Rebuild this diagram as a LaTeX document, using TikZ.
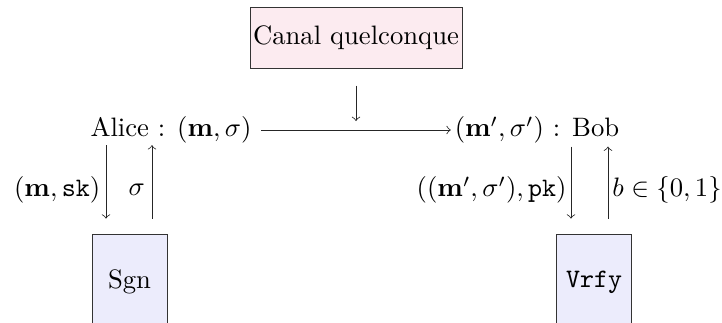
\documentclass[tikz,border=0pt]{standalone}
\usepackage{amsmath}
\definecolor{chanfill}{RGB}{252,235,240}
\definecolor{algofill}{RGB}{236,236,252}
\begin{document}
\begin{tikzpicture}[x=0.375pt,y=-0.375pt,
  chan/.style={draw=black!80,line width=0.35pt,fill=chanfill,minimum width=79.5pt,minimum height=22.9pt,inner sep=0pt},
  algo/.style={draw=black!80,line width=0.35pt,fill=algofill,minimum width=28.1pt,minimum height=36pt,inner sep=0pt},
  txt/.style={inner sep=1pt},
  arr/.style={->,line width=0.3pt,draw=black!85}]
\useasboundingbox (0,0) rectangle (722,322);
\clip (0,0) rectangle (722,322);
\node[chan] (canal) at (356,37.5) {Canal quelconque};
\node[txt] (alice) at (171,130) {Alice : $(\mathbf{m},\sigma)$};
\node[txt] (bob) at (537,130) {$(\mathbf{m}',\sigma')$ : Bob};
\node[algo] (sgn) at (129.5,282) {Sgn};
\node[algo] (vrfy) at (594,282) {\texttt{Vrfy}};
\coordinate (hit) at (356,121);
\coordinate (xa) at (106,0);
\coordinate (xb) at (152,0);
\coordinate (xc) at (571,0);
\coordinate (xd) at (608,0);
\draw[arr] ([yshift=-6.4pt]canal.south) -- (hit);
\draw[arr] ([xshift=2.5pt]alice.east) -- ([xshift=-0.3pt]bob.west);
\draw[arr,shorten <=-0.5pt,shorten >=5.6pt] (alice.south -| xa) -- (sgn.north -| xa)
  node[midway,left,inner sep=2pt] {$(\mathbf{m},\mathtt{sk})$};
\draw[arr,shorten >=-0.5pt,shorten <=5.6pt] (sgn.north -| xb) -- (alice.south -| xb)
  node[midway,left,inner sep=2.5pt] {$\sigma$};
\draw[arr,shorten >=5.6pt] (bob.south -| xc) -- (vrfy.north -| xc)
  node[midway,left,inner sep=1.5pt] {$((\mathbf{m}',\sigma'),\mathtt{pk})$};
\draw[arr,shorten <=5.6pt] (vrfy.north -| xd) -- (bob.south -| xd)
  node[midway,right,inner sep=1.5pt] {$b\in\{0,1\}$};
\end{tikzpicture}
\end{document}
